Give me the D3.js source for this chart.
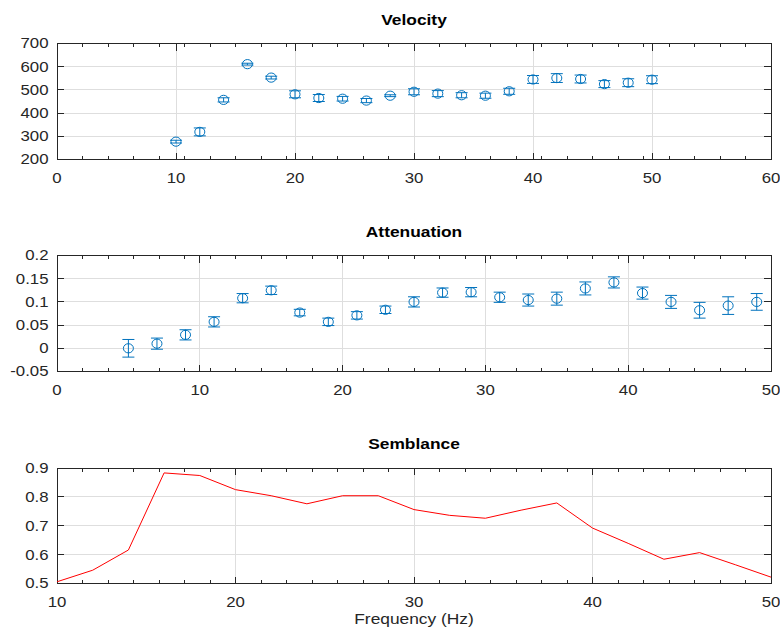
<!DOCTYPE html>
<html>
<head>
<meta charset="utf-8">
<script src="https://cdn.jsdelivr.net/npm/d3@7"></script>
<style>
  html, body { margin: 0; padding: 0; background: #fff; }
  svg { display: block; }
  text { font-family: "Liberation Sans", Arial, Helvetica, sans-serif; }
</style>
</head>
<body>
<svg id="chart" width="780" height="630"></svg>
<script>
// Velocity estimates with error bars (m/s)
const velFreq   = [10, 12, 14, 16, 18, 20, 22, 24, 26, 28, 30, 32, 34, 36, 38, 40, 42, 44, 46, 48, 50];
const velValues = [277, 319, 457, 611, 553, 481, 465, 462, 454, 475, 492, 484, 477, 475, 494, 545, 551, 547, 525, 531, 544];
const velErrors = [6, 17, 9, 4, 6, 15, 15, 10, 9, 4, 13, 13, 11, 11, 13, 17, 19, 17, 15, 17, 17];

// Attenuation estimates with error bars
const attFreq   = [5, 7, 9, 11, 13, 15, 17, 19, 21, 23, 25, 27, 29, 31, 33, 35, 37, 39, 41, 43, 45, 47, 49];
const attValues = [0.000, 0.010, 0.029, 0.057, 0.108, 0.125, 0.077, 0.057, 0.071, 0.083, 0.100, 0.120, 0.121, 0.110, 0.104, 0.107, 0.129, 0.142, 0.119, 0.100, 0.082, 0.092, 0.100];
const attErrors = [0.019, 0.012, 0.011, 0.011, 0.010, 0.009, 0.007, 0.008, 0.008, 0.008, 0.011, 0.010, 0.010, 0.011, 0.013, 0.014, 0.014, 0.012, 0.013, 0.014, 0.017, 0.019, 0.018];

// Semblance curve
const semFreq   = [10, 12, 14, 16, 18, 20, 22, 24, 26, 28, 30, 32, 34, 36, 38, 40, 42, 44, 46, 48, 50];
const semValues = [0.506, 0.546, 0.616, 0.883, 0.874, 0.825, 0.804, 0.776, 0.804, 0.804, 0.756, 0.736, 0.726, 0.754, 0.779, 0.692, 0.639, 0.584, 0.607, 0.565, 0.522];

// Tick labels
const velXTicks = [0, 10, 20, 30, 40, 50, 60];
const velYTicks = [200, 300, 400, 500, 600, 700];
const attXTicks = [0, 10, 20, 30, 40, 50];
const attYTicks = [-0.05, 0, 0.05, 0.1, 0.15, 0.2];
const semXTicks = [10, 20, 30, 40, 50];
const semYTicks = [0.5, 0.6, 0.7, 0.8, 0.9];

const titles = ["Velocity", "Attenuation", "Semblance"];
const xAxisLabel = "Frequency (Hz)";

const svg = d3.select("#chart");
const AXIS = "#262626", GRID = "#dedede", BLUE = "#0072BD", RED = "#FF0000";
const left = 57, right = 771;
const MINOR_DIVS = 28;

// Horizontally widened text, anchored at (x, y)
function label(g, x, y, str, size, anchor, opts = {}) {
  return g.append("text")
    .attr("transform", `translate(${x},${y}) scale(${opts.sx || 1.2},1)`)
    .attr("text-anchor", anchor)
    .attr("font-size", size)
    .attr("font-weight", opts.bold ? "bold" : "normal")
    .attr("fill", opts.fill || AXIS)
    .attr("dy", opts.dy || 0)
    .text(str);
}

function fmt(v) {
  return String(+v.toFixed(4));
}

function panel(cfg) {
  const x = d3.scaleLinear().domain(cfg.xDomain).range([left, right]);
  const y = d3.scaleLinear().domain(cfg.yDomain).range([cfg.bottom, cfg.top]);
  const g = svg.append("g");

  // grid
  g.selectAll(".gx").data(cfg.xTicks.filter(t => t > cfg.xDomain[0] && t < cfg.xDomain[1]))
    .join("line").attr("x1", d => x(d)).attr("x2", d => x(d))
    .attr("y1", cfg.top).attr("y2", cfg.bottom)
    .attr("stroke", GRID).attr("stroke-width", 1).attr("shape-rendering", "crispEdges");
  g.selectAll(".gy").data(cfg.yTicks.filter(t => t > cfg.yDomain[0] && t < cfg.yDomain[1]))
    .join("line").attr("y1", d => y(d)).attr("y2", d => y(d))
    .attr("x1", left).attr("x2", right)
    .attr("stroke", GRID).attr("stroke-width", 1).attr("shape-rendering", "crispEdges");

  // major and minor ticks on all sides
  const tl = 7, mtl = 3.5;
  const [x0, x1] = cfg.xDomain;
  const minor = d3.range(1, MINOR_DIVS).map(i => x0 + i * (x1 - x0) / MINOR_DIVS);
  const tickG = g.append("g").attr("stroke", AXIS).attr("stroke-width", 1).attr("shape-rendering", "crispEdges");
  [[cfg.bottom, -1], [cfg.top, 1]].forEach(([yy, dir]) => {
    tickG.selectAll(null).data(cfg.xTicks).join("line")
      .attr("x1", d => x(d)).attr("x2", d => x(d)).attr("y1", yy).attr("y2", yy + dir * tl);
    tickG.selectAll(null).data(minor).join("line")
      .attr("x1", d => x(d)).attr("x2", d => x(d)).attr("y1", yy).attr("y2", yy + dir * mtl);
  });
  [[left, 1], [right, -1]].forEach(([xx, dir]) => {
    tickG.selectAll(null).data(cfg.yTicks).join("line")
      .attr("y1", d => y(d)).attr("y2", d => y(d)).attr("x1", xx).attr("x2", xx + dir * tl);
  });

  // box
  g.append("rect").attr("x", left).attr("y", cfg.top)
    .attr("width", right - left).attr("height", cfg.bottom - cfg.top)
    .attr("fill", "none").attr("stroke", AXIS).attr("stroke-width", 1).attr("shape-rendering", "crispEdges");

  // tick labels
  cfg.xTicks.forEach(t => label(g, x(t), cfg.bottom + 23.5, fmt(t), 14, "middle"));
  cfg.yTicks.forEach(t => label(g, 48.5, y(t), fmt(t), 14, "end", { dy: "0.35em" }));

  // title
  label(g, (left + right) / 2, cfg.titleY, cfg.title, 15.5, "middle", { bold: true, sx: 1.12, fill: "#000" });

  return { g, x, y };
}

function errorMarks(p, xs, vs, es) {
  const data = xs.map((f, i) => ({ f, v: vs[i], e: es[i] }));
  const cap = 6;
  const m = p.g.append("g").attr("stroke", BLUE).attr("stroke-width", 1).attr("fill", "none");
  const pt = m.selectAll("g").data(data).join("g");
  pt.append("line").attr("x1", d => p.x(d.f)).attr("x2", d => p.x(d.f))
    .attr("y1", d => p.y(d.v - d.e)).attr("y2", d => p.y(d.v + d.e));
  pt.append("line").attr("x1", d => p.x(d.f) - cap).attr("x2", d => p.x(d.f) + cap)
    .attr("y1", d => p.y(d.v - d.e)).attr("y2", d => p.y(d.v - d.e));
  pt.append("line").attr("x1", d => p.x(d.f) - cap).attr("x2", d => p.x(d.f) + cap)
    .attr("y1", d => p.y(d.v + d.e)).attr("y2", d => p.y(d.v + d.e));
  pt.append("ellipse").attr("cx", d => p.x(d.f)).attr("cy", d => p.y(d.v))
    .attr("rx", 5).attr("ry", 4.6);
}

// Velocity
const p1 = panel({ top: 43.5, bottom: 159.5, xDomain: [0, 60], yDomain: [200, 700],
  xTicks: velXTicks, yTicks: velYTicks, title: titles[0], titleY: 25 });
errorMarks(p1, velFreq, velValues, velErrors);

// Attenuation
const p2 = panel({ top: 255.5, bottom: 371.5, xDomain: [0, 50], yDomain: [-0.05, 0.2],
  xTicks: attXTicks, yTicks: attYTicks, title: titles[1], titleY: 236.5 });
errorMarks(p2, attFreq, attValues, attErrors);

// Semblance
const p3 = panel({ top: 468, bottom: 583.5, xDomain: [10, 50], yDomain: [0.5, 0.9],
  xTicks: semXTicks, yTicks: semYTicks, title: titles[2], titleY: 449 });
p3.g.append("path")
  .datum(semFreq.map((f, i) => [f, semValues[i]]))
  .attr("d", d3.line().x(d => p3.x(d[0])).y(d => p3.y(d[1])))
  .attr("fill", "none").attr("stroke", RED).attr("stroke-width", 1);

label(svg, (left + right) / 2, 623.5, xAxisLabel, 15.5, "middle", { sx: 1.12 });
</script>
</body>
</html>
